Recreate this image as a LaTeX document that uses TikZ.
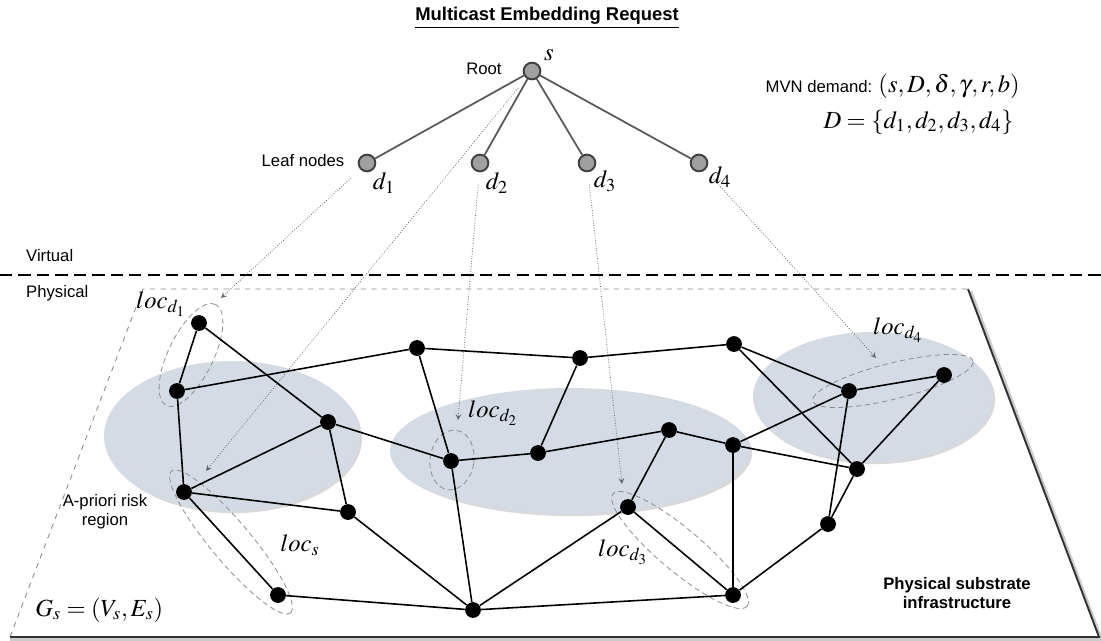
\documentclass[tikz,border=0pt]{standalone}
\usepackage{mathptmx}
\usepackage[no-math]{fontspec}
\setmainfont{Liberation Sans}
\usetikzlibrary{shapes.geometric, arrows, shadows}

\definecolor{riskblue}{RGB}{213,219,229}
\definecolor{leafgray}{RGB}{160,160,160}

\tikzstyle{pnode} = [circle, fill=black, inner sep=0pt, minimum size=9pt]
\tikzstyle{vnode} = [circle, draw=black!75, fill=leafgray, line width=1.1pt, inner sep=0pt, minimum size=9.5pt]
\tikzstyle{plink} = [line width=0.9pt]
\tikzstyle{vlink} = [line width=1pt, black!65]
\tikzstyle{region} = [ellipse, fill=riskblue, inner sep=0pt, drop shadow={shadow xshift=1.2pt, shadow yshift=-1.2pt, opacity=0.3}]
\tikzstyle{loc} = [ellipse, draw=black!45, densely dashed, line width=0.45pt, inner sep=0pt]
\tikzstyle{map} = [->, >=stealth, densely dotted, black!60, line width=0.45pt, shorten <=0.25cm]
\tikzstyle{lbl} = [font=\fontsize{9.5}{11}\selectfont, align=center]
\tikzstyle{mth} = [font=\fontsize{14}{16}\selectfont, inner sep=0pt]

\begin{document}
\begin{tikzpicture}[x=0.02cm, y=-0.02cm]
	\useasboundingbox (0,0) rectangle (1101,640);

	% risk regions
	\node (reg1) [region, minimum width=5.12cm, minimum height=3.0cm] at (232,436) {};
	\node (reg2) [region, minimum width=7.2cm, minimum height=2.52cm] at (570,451) {};
	\node (reg3) [region, minimum width=4.8cm, minimum height=2.6cm] at (873,397) {};

	% substrate plane
	\draw [dashed, black!45, line width=0.5pt] (10,637) -- (143,289) -- (968,289);
	\draw [line width=2pt, black!20] (970.5,291) -- (1101,639) -- (10,639);
	\draw [line width=1.1pt, black!80] (968,289) -- (1099,637) -- (10,637);

	% virtual / physical split
	\draw [dash pattern=on 7pt off 3.5pt, line width=0.8pt] (0,275) -- (1101,275);
	\node (virt) [lbl, anchor=west] at (20,256) {Virtual};
	\node (phys) [lbl, anchor=west] at (20,293) {Physical};

	% multicast request
	\node (title) [font=\fontsize{10.5}{12}\selectfont] at (547,18) {\underline{\textbf{Multicast Embedding Request}}};
	\node (s) [vnode] at (532,71) {};
	\node (d1) [vnode] at (367,163) {};
	\node (d2) [vnode] at (480,163) {};
	\node (d3) [vnode] at (587,163) {};
	\node (d4) [vnode] at (699,163) {};
	\node (ls) [mth] at (549,55) {$s$};
	\node (ld1) [mth] at (384,183) {$d_1$};
	\node (ld2) [mth] at (497,183) {$d_2$};
	\node (ld3) [mth] at (605,181) {$d_3$};
	\node (ld4) [mth] at (720,177) {$d_4$};
	\node (root) [lbl] at (484,69) {Root};
	\node (leaf) [lbl] at (303,161) {Leaf nodes};
	\draw [vlink] (s) -- (d1);
	\draw [vlink] (s) -- (d2);
	\draw [vlink] (s) -- (d3);
	\draw [vlink] (s) -- (d4);

	\node (mvn) [lbl, anchor=base east, inner sep=0pt] at (1020,92) {MVN demand: {\fontsize{14}{16}\selectfont$(s,D,\delta,\gamma,r,b)$}};
	\node (dset) [mth, anchor=base east] at (1014,128) {$D=\{d_1,d_2,d_3,d_4\}$};

	% candidate locations
	\node (locd1) [loc, minimum width=2.25cm, minimum height=0.9cm, rotate=64] at (191,355) {};
	\node (locs) [loc, minimum width=3.7cm, minimum height=0.8cm, rotate=-50] at (231,542) {};
	\node (locd2) [loc, minimum width=0.88cm, minimum height=1.2cm, rotate=-8] at (452,460) {};
	\node (locd3) [loc, minimum width=3.5cm, minimum height=0.85cm, rotate=-40] at (680,550) {};
	\node (locd4) [loc, minimum width=3.3cm, minimum height=0.72cm, rotate=14] at (893,381) {};
	\node (tlocd1) [mth] at (161,304) {$loc_{d_1}$};
	\node (tlocs) [mth] at (300,545) {$loc_s$};
	\node (tlocd2) [mth] at (493,413) {$loc_{d_2}$};
	\node (tlocd3) [mth] at (623,552) {$loc_{d_3}$};
	\node (tlocd4) [mth] at (898,330) {$loc_{d_4}$};

	% mapping onto the substrate
	\coordinate (t1) at (221,298);
	\coordinate (ts) at (206,471);
	\coordinate (t2) at (458,420);
	\coordinate (t3) at (622,484);
	\coordinate (t4) at (876,358);
	\draw [map] (d1) -- (t1);
	\draw [map] (s) -- (ts);
	\draw [map] (d2) -- (t2);
	\draw [map] (d3) -- (t3);
	\draw [map] (d4) -- (t4);

	% physical nodes
	\node (p1) [pnode] at (199,323) {};
	\node (p2) [pnode] at (177,391) {};
	\node (p3) [pnode] at (328,422) {};
	\node (p4) [pnode] at (417,348) {};
	\node (p5) [pnode] at (451,461) {};
	\node (p6) [pnode] at (538,453) {};
	\node (p7) [pnode] at (669,430) {};
	\node (p8) [pnode] at (733,445) {};
	\node (p9) [pnode] at (628,507) {};
	\node (p10) [pnode] at (473,610) {};
	\node (p11) [pnode] at (733,595) {};
	\node (p12) [pnode] at (580,358) {};
	\node (p13) [pnode] at (734,344) {};
	\node (p14) [pnode] at (849,391) {};
	\node (p15) [pnode] at (944,375) {};
	\node (p16) [pnode] at (857,469) {};
	\node (p17) [pnode] at (828,524) {};
	\node (p18) [pnode] at (184,492) {};
	\node (p19) [pnode] at (348,512) {};
	\node (p20) [pnode] at (278,595) {};

	% physical links
	\draw [plink] (p1) -- (p2);
	\draw [plink] (p1) -- (p3);
	\draw [plink] (p2) -- (p4);
	\draw [plink] (p2) -- (p18);
	\draw [plink] (p3) -- (p18);
	\draw [plink] (p3) -- (p19);
	\draw [plink] (p3) -- (p5);
	\draw [plink] (p4) -- (p12);
	\draw [plink] (p4) -- (p5);
	\draw [plink] (p12) -- (p13);
	\draw [plink] (p12) -- (p6);
	\draw [plink] (p5) -- (p6);
	\draw [plink] (p5) -- (p10);
	\draw [plink] (p6) -- (p7);
	\draw [plink] (p7) -- (p8);
	\draw [plink] (p7) -- (p9);
	\draw [plink] (p8) -- (p11);
	\draw [plink] (p8) -- (p14);
	\draw [plink] (p8) -- (p16);
	\draw [plink] (p9) -- (p10);
	\draw [plink] (p9) -- (p11);
	\draw [plink] (p10) -- (p11);
	\draw [plink] (p13) -- (p14);
	\draw [plink] (p13) -- (p16);
	\draw [plink] (p14) -- (p15);
	\draw [plink] (p14) -- (p17);
	\draw [plink] (p15) -- (p16);
	\draw [plink] (p16) -- (p17);
	\draw [plink] (p17) -- (p11);
	\draw [plink] (p18) -- (p19);
	\draw [plink] (p18) -- (p20);
	\draw [plink] (p19) -- (p10);
	\draw [plink] (p20) -- (p10);

	% side notes
	\node (risk) [lbl] at (105,512) {A-priori risk\\region};
	\node (gs) [mth, anchor=west] at (35,610) {$G_s=(V_s,E_s)$};
	\node (infra) [lbl, font=\fontsize{9.5}{11}\selectfont\bfseries] at (957,593) {Physical substrate\\infrastructure};
\end{tikzpicture}
\end{document}
